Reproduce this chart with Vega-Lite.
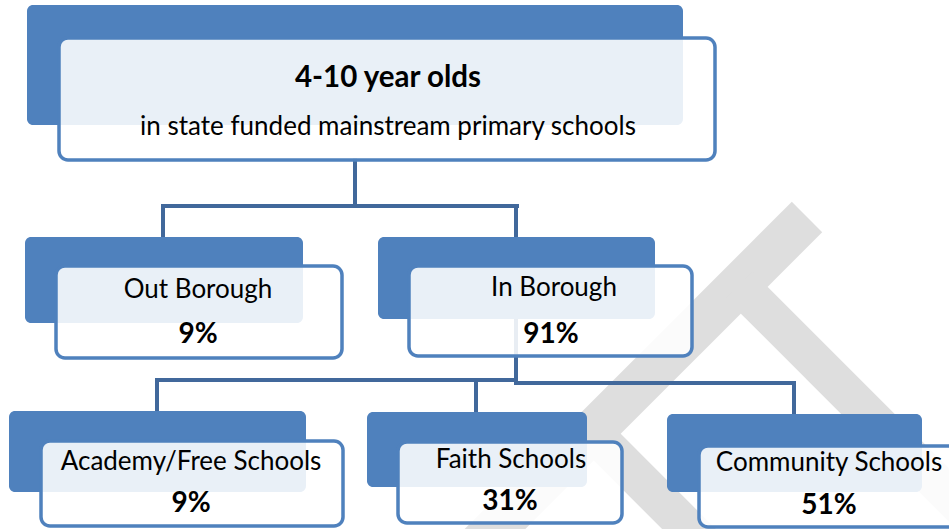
{
  "$schema": "https://vega.github.io/schema/vega-lite/v6.json",
  "autosize": {"type": "fit", "contains": "padding"},
  "width": 949,
  "height": 529,
  "padding": 0,
  "background": "white",
  "config": {"view": {"stroke": null}},
  "datasets": {
    "bandsWide": [
      {"x1": 807, "y1": 217, "x2": 460, "y2": 564}
    ],
    "bandsNarrow": [
      {"x1": 739, "y1": 285, "x2": 1010, "y2": 556},
      {"x1": 592, "y1": 432, "x2": 720, "y2": 560}
    ],
    "links": [
      {"x1": 355, "y1": 160, "x2": 355, "y2": 206},
      {"x1": 163, "y1": 206, "x2": 517, "y2": 206},
      {"x1": 163, "y1": 206, "x2": 163, "y2": 237},
      {"x1": 516, "y1": 206, "x2": 516, "y2": 237},
      {"x1": 516, "y1": 320, "x2": 516, "y2": 382},
      {"x1": 157, "y1": 380, "x2": 516, "y2": 380},
      {"x1": 516, "y1": 383, "x2": 794, "y2": 383},
      {"x1": 157, "y1": 380, "x2": 157, "y2": 410},
      {"x1": 476, "y1": 381, "x2": 476, "y2": 410},
      {"x1": 794, "y1": 383, "x2": 794, "y2": 413}
    ],
    "nodes": [
      {"node": "top", "bx0": 27, "bx1": 683, "by0": 5, "by1": 125, "fx0": 59, "fx1": 715, "fy0": 38, "fy1": 160},
      {"node": "Out Borough", "bx0": 25, "bx1": 303, "by0": 237, "by1": 323, "fx0": 56, "fx1": 342, "fy0": 266, "fy1": 358},
      {"node": "In Borough", "bx0": 378, "bx1": 655, "by0": 237, "by1": 319, "fx0": 409, "fx1": 692, "fy0": 266, "fy1": 356},
      {"node": "Academy/Free Schools", "bx0": 9, "bx1": 306, "by0": 411, "by1": 492, "fx0": 41, "fx1": 343, "fy0": 441, "fy1": 526},
      {"node": "Faith Schools", "bx0": 367, "bx1": 587, "by0": 412, "by1": 487, "fx0": 398, "fx1": 622, "fy0": 442, "fy1": 523},
      {"node": "Community Schools", "bx0": 667, "bx1": 922, "by0": 414, "by1": 492, "fx0": 699, "fx1": 965, "fy0": 446, "fy1": 527}
    ],
    "labels": [
      {"text": "in state funded mainstream primary schools", "x": 388, "y": 127},
      {"text": "Out Borough", "x": 198, "y": 290},
      {"text": "In Borough", "x": 554, "y": 288},
      {"text": "Academy/Free Schools", "x": 191, "y": 462},
      {"text": "Faith Schools", "x": 511, "y": 460},
      {"text": "Community Schools", "x": 829, "y": 463}
    ],
    "pcts": [
      {"text": "9%", "x": 198, "y": 335},
      {"text": "91%", "x": 551, "y": 335},
      {"text": "9%", "x": 191, "y": 504},
      {"text": "31%", "x": 510, "y": 502},
      {"text": "51%", "x": 829, "y": 506}
    ],
    "titles": [
      {"text": "4-10 year olds", "x": 388, "y": 78}
    ]
  },
  "layer": [
    {
      "data": {"name": "bandsWide"},
      "mark": {"type": "rule", "color": "#DEDEDE", "strokeWidth": 43, "strokeCap": "butt", "clip": true},
      "encoding": {
        "x": {"field": "x1", "type": "quantitative", "scale": {"domain": [0, 949], "nice": false, "zero": false}, "axis": null},
        "y": {"field": "y1", "type": "quantitative", "scale": {"domain": [0, 529], "nice": false, "zero": false, "reverse": true}, "axis": null},
        "x2": {"field": "x2"},
        "y2": {"field": "y2"}
      }
    },
    {
      "data": {"name": "bandsNarrow"},
      "mark": {"type": "rule", "color": "#DEDEDE", "strokeWidth": 38, "strokeCap": "butt", "clip": true},
      "encoding": {
        "x": {"field": "x1", "type": "quantitative", "axis": null},
        "y": {"field": "y1", "type": "quantitative", "axis": null},
        "x2": {"field": "x2"},
        "y2": {"field": "y2"}
      }
    },
    {
      "data": {"name": "links"},
      "mark": {"type": "rule", "color": "#41689B", "strokeWidth": 4, "strokeCap": "square"},
      "encoding": {
        "x": {"field": "x1", "type": "quantitative", "axis": null},
        "y": {"field": "y1", "type": "quantitative", "axis": null},
        "x2": {"field": "x2"},
        "y2": {"field": "y2"}
      }
    },
    {
      "data": {"name": "nodes"},
      "mark": {"type": "rect", "fill": "#4F81BD", "cornerRadius": 6},
      "encoding": {
        "x": {"field": "bx0", "type": "quantitative", "axis": null},
        "x2": {"field": "bx1"},
        "y": {"field": "by0", "type": "quantitative", "axis": null},
        "y2": {"field": "by1"}
      }
    },
    {
      "data": {"name": "nodes"},
      "mark": {"type": "rect", "fill": "#FFFFFF", "fillOpacity": 0.88, "stroke": "#4F81BD", "strokeWidth": 3.5, "cornerRadius": 9, "clip": true},
      "encoding": {
        "x": {"field": "fx0", "type": "quantitative", "axis": null},
        "x2": {"field": "fx1"},
        "y": {"field": "fy0", "type": "quantitative", "axis": null},
        "y2": {"field": "fy1"}
      }
    },
    {
      "data": {"name": "labels"},
      "mark": {"type": "text", "font": "Lato", "fontSize": 26, "color": "#000000", "align": "center", "baseline": "middle"},
      "encoding": {
        "x": {"field": "x", "type": "quantitative", "axis": null},
        "y": {"field": "y", "type": "quantitative", "axis": null},
        "text": {"field": "text"}
      }
    },
    {
      "data": {"name": "pcts"},
      "mark": {"type": "text", "font": "Lato", "fontSize": 28, "fontWeight": "bold", "color": "#000000", "align": "center", "baseline": "middle"},
      "encoding": {
        "x": {"field": "x", "type": "quantitative", "axis": null},
        "y": {"field": "y", "type": "quantitative", "axis": null},
        "text": {"field": "text"}
      }
    },
    {
      "data": {"name": "titles"},
      "mark": {"type": "text", "font": "Lato", "fontSize": 29.5, "fontWeight": "bold", "color": "#000000", "align": "center", "baseline": "middle"},
      "encoding": {
        "x": {"field": "x", "type": "quantitative", "axis": null},
        "y": {"field": "y", "type": "quantitative", "axis": null},
        "text": {"field": "text"}
      }
    }
  ]
}
